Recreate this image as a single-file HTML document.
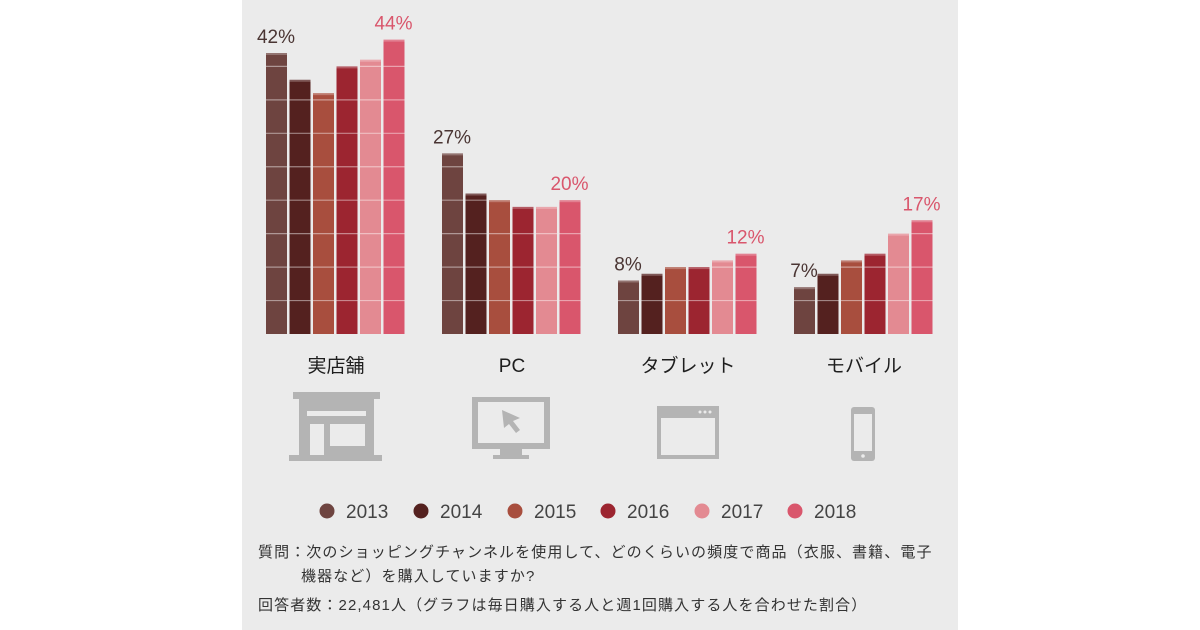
<!DOCTYPE html>
<html><head><meta charset="utf-8">
<style>
body{margin:0;width:1200px;height:630px;background:#fff;overflow:hidden;font-family:"Liberation Sans","Noto Sans CJK JP",sans-serif}
#panel{position:absolute;left:242px;top:0;width:716px;height:630px;background:#ebebeb}
svg{position:absolute;left:0;top:0}
.note{position:absolute;font-size:15px;letter-spacing:1.1px;color:#333;white-space:nowrap}
</style></head><body>
<div id="panel"></div>
<svg id="chart" width="1200" height="630"></svg>
<div class="note" style="left:258px;top:541px">質問：次のショッピングチャンネルを使用して、どのくらいの頻度で商品（衣服、書籍、電子</div>
<div class="note" style="left:301px;top:565px">機器など）を購入していますか?</div>
<div class="note" style="left:258px;top:594px">回答者数：22,481人（グラフは毎日購入する人と週1回購入する人を合わせた割合）</div>
<script>
const categories=["実店舗","PC","タブレット","モバイル"];
const years=["2013","2014","2015","2016","2017","2018"];
const v2013=[42,27,8,7];
const v2014=[38,21,9,9];
const v2015=[36,20,10,11];
const v2016=[40,19,10,12];
const v2017=[41,19,11,15];
const v2018=[44,20,12,17];
const series=[v2013,v2014,v2015,v2016,v2017,v2018];
const colors=["#6e4440","#54211f","#a84e3e","#9c2530","#e38a92","#d9566c"];
const NS="http://www.w3.org/2000/svg";
const svg=document.getElementById('chart');
const base=334, pxPer=6.69;
const y=v=>base-v*pxPer;
const gx=i=>266+i*176;
const bx=(g,s)=>gx(g)+s*23.5;
const bw=21;
function mk(t,a){const e=document.createElementNS(NS,t);for(const k in a)e.setAttribute(k,a[k]);svg.appendChild(e);return e;}
categories.forEach((c,g)=>{
  series.forEach((ser,s)=>{
    const r=mk('rect',{x:bx(g,s),y:y(ser[g]),width:bw,height:base-y(ser[g]),fill:colors[s]});
    
    
    mk('rect',{x:bx(g,s),y:y(ser[g]),width:bw,height:2,fill:'#fff',opacity:0.25});
    for(let k=5;k<ser[g];k+=5){
      mk('line',{x1:bx(g,s),x2:bx(g,s)+bw,y1:y(k),y2:y(k),stroke:'#fff','stroke-opacity':0.45,'stroke-width':1.2});
    }
  });
  const l1=mk('text',{x:bx(g,0)+10,y:y(v2013[g])-10,'text-anchor':'middle','font-size':19,fill:'#4a3533'});
  l1.textContent=v2013[g]+'%';
  
  
  const l2=mk('text',{x:bx(g,5)+10,y:y(v2018[g])-10,'text-anchor':'middle','font-size':19,fill:'#d9566c'});
  l2.textContent=v2018[g]+'%';
  
  
  const cl=mk('text',{x:gx(g)+70,y:372,'text-anchor':'middle','font-size':19,fill:'#1e1e1e'});
  cl.textContent=c;
  
  
});
const lx=[327,421,515,608,702,795];
years.forEach((yr,i)=>{
  const c=mk('circle',{cx:lx[i],cy:511,r:7.5,fill:colors[i]});
  
  
  const t=mk('text',{x:lx[i]+19,y:518,'font-size':19,fill:'#444'});
  t.textContent=yr;
  
  
});
</script>
<svg width="1200" height="630" style="position:absolute;left:0;top:0">
<g fill="#b4b4b4">
<rect x="293" y="392" width="87" height="7"/>
<rect x="299" y="399" width="75" height="58"/>
<rect x="289" y="455" width="93" height="6"/>
<rect x="307" y="411" width="59" height="5" fill="#ebebeb"/>
<rect x="310" y="424" width="14" height="31" fill="#ebebeb"/>
<rect x="330" y="424" width="35" height="22" fill="#ebebeb"/>
</g>
<g>
<rect x="472" y="397" width="78" height="52" fill="#b4b4b4"/>
<rect x="478" y="402" width="66" height="41" fill="#ebebeb"/>
<rect x="500" y="449" width="22" height="6" fill="#b4b4b4"/>
<rect x="493" y="455" width="36" height="4" fill="#b4b4b4"/>
<polygon points="502,410 520,418 513,421 520,430 516,433 509,424 504,428" fill="#b4b4b4"/>
</g>
<g>
<rect x="657" y="406" width="62" height="53" fill="#b4b4b4"/>
<rect x="661" y="418" width="54" height="37" fill="#ebebeb"/>
<circle cx="700" cy="412" r="1.5" fill="#ebebeb"/><circle cx="705" cy="412" r="1.5" fill="#ebebeb"/><circle cx="710" cy="412" r="1.5" fill="#ebebeb"/>
</g>
<g>
<rect x="851" y="407" width="24" height="54" rx="3" fill="#b4b4b4"/>
<rect x="854" y="414" width="18" height="37" fill="#ebebeb"/>
<circle cx="863" cy="456" r="1.8" fill="#ebebeb"/>
</g>
</svg>
</body></html>
